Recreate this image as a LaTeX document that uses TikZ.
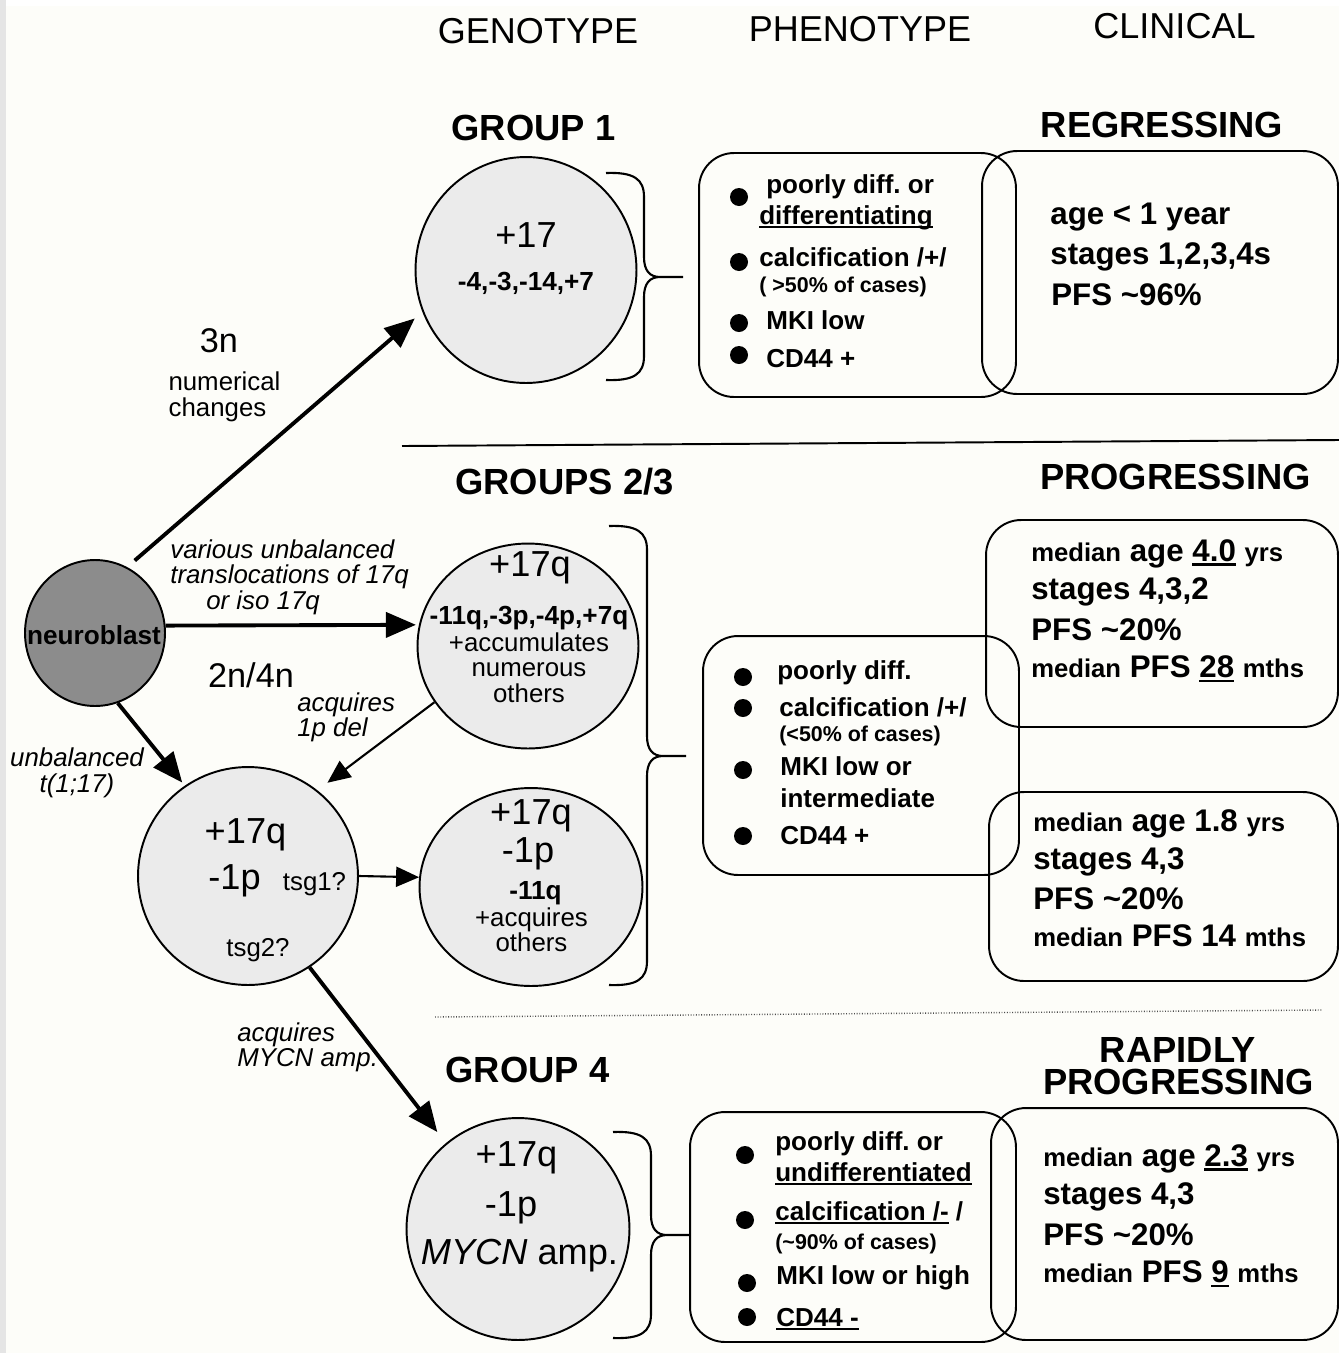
\documentclass[tikz,border=0pt]{standalone}
\usepackage{fontspec}
\setmainfont{Liberation Sans}
\usetikzlibrary{shapes.geometric,arrows.meta}
\frenchspacing

\definecolor{paper}{RGB}{253,253,249}

% underline that sits just under the baseline
\newcommand{\uln}[1]{\setbox0\hbox{#1}\rlap{\rule[-0.13em]{\wd0}{0.075em}}\box0\relax}
% smaller words inside the clinical lines
\newcommand{\smtxt}[1]{{\fontsize{14.6}{18}\selectfont #1}}

\tikzset{
  cell/.style={ellipse, draw, line width=1.1pt, fill=black!8},
  panel/.style={rectangle, draw, line width=1.1pt, rounded corners=0.7cm},
  bigarrow/.style={line width=2.2pt, -{Triangle[length=0.6cm,width=0.5cm]}},
  smallarrow/.style={line width=1.2pt, -{Triangle[length=0.46cm,width=0.4cm]}},
  colhead/.style={font=\fontsize{20.5}{24}\selectfont},
  grouplabel/.style={font=\fontsize{20.7}{24}\selectfont\bfseries},
  karyo/.style={font=\fontsize{20.6}{24}\selectfont},
  ploidy/.style={font=\fontsize{19.5}{22}\selectfont},
  note/.style={font=\fontsize{14.7}{14.5}\selectfont},
  bnote/.style={font=\fontsize{14.9}{18}\selectfont\bfseries},
  route/.style={font=\fontsize{14.7}{14.5}\selectfont\itshape},
  pheno/.style={font=\fontsize{14.8}{18}\selectfont\bfseries, anchor=west},
  cases/.style={font=\fontsize{12.2}{15}\selectfont\bfseries, anchor=west},
  clin/.style={font=\fontsize{17.8}{22}\selectfont\bfseries, anchor=west},
}

\begin{document}
\begin{tikzpicture}[x=0.02cm, y=-0.02cm, every node/.style={inner sep=0pt}]
  % Page
  \fill[paper] (0,0) rectangle (1339,1353);
  \fill[black!10] (0,0) rectangle (6,1353);
  \fill[white] (6,0) rectangle (1339,6);
  \useasboundingbox (0,0) rectangle (1339,1353);

  % Column heads
  \node[colhead] (hg) at (538,31) {GENOTYPE};
  \node[colhead] (hp) at (860,29) {PHENOTYPE};
  \node[colhead] (hc) at (1174.5,26) {CLINICAL};

  % Group titles
  \node[grouplabel] (t1) at (533.5,128) {GROUP 1};
  \node[grouplabel] (r1) at (1162,125) {REGRESSING};
  \node[grouplabel] (t23) at (564.5,481.5) {GROUPS 2/3};
  \node[grouplabel] (r23) at (1175.5,476.5) {PROGRESSING};
  \node[grouplabel] (t4) at (527.5,1069.5) {GROUP 4};
  \node[grouplabel] (r4a) at (1178,1049.5) {RAPIDLY};
  \node[grouplabel] (r4b) at (1178.5,1081.5) {PROGRESSING};

  % Separators
  \draw[line width=1.1pt] (402,446) -- (1339,440);
  \draw[line width=0.8pt, black!70, dash pattern=on 0.5pt off 1pt] (435,1017) -- (1322,1010);

  % Cells
  \node[cell, fill=black!45, minimum width=2.8cm, minimum height=2.92cm] (nb) at (95,633) {};
  \node[cell, minimum width=4.42cm, minimum height=4.52cm] (g1) at (526,270) {};
  \node[cell, minimum width=4.42cm, minimum height=4.1cm] (g23) at (528,646) {};
  \node[cell, minimum width=4.4cm, minimum height=4.36cm] (del1p) at (248,876) {};
  \node[cell, minimum width=4.46cm, minimum height=3.96cm] (g23b) at (531,887) {};
  \node[cell, minimum width=4.46cm, minimum height=4.44cm] (g4) at (518,1229) {};

  \node[bnote] (nbt) at (94,635.5) {neuroblast};

  \node[karyo] (g1k) at (526,235) {+17};
  \node[bnote] (g1l) at (526,283) {-4,-3,-14,+7};

  \node[karyo] (g23k) at (530,568) {+17q};
  \node[bnote] (g23l) at (529,618) {-11q,-3p,-4p,+7q};
  \node[note, align=center] (g23m) at (529,667.5) {+accumulates\\numerous\\others};

  \node[karyo] (d1k) at (245.5,835) {+17q};
  \node[karyo] (d1l) at (234.5,881) {-1p};
  \node[note] (tsg1) at (314.5,884) {tsg1?};
  \node[note] (tsg2) at (258,950) {tsg2?};

  \node[karyo] (g23bk) at (531,816) {+17q};
  \node[karyo] (g23bl) at (528,854) {-1p};
  \node[bnote] (g23bm) at (535.5,893) {-11q};
  \node[note, align=center] (g23bn) at (531.5,930) {+acquires\\others};

  \node[karyo] (g4k) at (516.5,1157.5) {+17q};
  \node[karyo] (g4l) at (511,1208) {-1p};
  \node[karyo] (g4m) at (519.5,1256) {\textit{MYCN} amp.};

  % Routes between the cells
  \draw[bigarrow, shorten <=0.2cm, shorten >=0.2cm] (nb.64) -- (g1.202);
  \draw[bigarrow, shorten >=0.06cm] (nb.6) -- (g23.169);
  \draw[bigarrow, shorten >=0.08cm] (nb.-72) -- (del1p.125);
  \draw[smallarrow, shorten >=0.25cm] (g23.211) -- (del1p.51);
  \draw[smallarrow] (del1p.0) -- (g23b.175);
  \draw[bigarrow, shorten >=0.28cm] (del1p.-56) -- (g4.130);

  \node[ploidy] (n3) at (219,341) {3n};
  \node[note] (n3a) at (224.5,381) {numerical};
  \node[note] (n3b) at (217.5,409.5) {changes};
  \node[ploidy] (n24) at (251,675.5) {2n/4n};
  \node[route, align=left, anchor=west] (trans) at (170,577) {various unbalanced\\translocations of 17q\\\hspace*{0.72cm}or iso 17q};
  \node[route, align=left, anchor=west] (acq1p) at (297,717.5) {acquires\\1p del};
  \node[route, align=center] (t117) at (77,773) {unbalanced\\t(1;17)};
  \node[route, align=left, anchor=west] (acqmycn) at (237,1047.5) {acquires\\MYCN amp.};

  % Braces towards the phenotype boxes
  \foreach \xs/\yt/\ym/\yb in {606/173/277/380, 609/526/756/985, 613/1132/1235/1338}
    \draw[line width=1.2pt] (\xs,\yt) .. controls (\xs+28,\yt-1) and (\xs+38,\yt+6) .. (\xs+38,\yt+24)
      -- (\xs+38,\ym-20) .. controls (\xs+38,\ym-6) and (\xs+44,\ym) .. (\xs+54,\ym) -- (\xs+77,\ym)
      (\xs+54,\ym) .. controls (\xs+44,\ym) and (\xs+38,\ym+6) .. (\xs+38,\ym+20)
      -- (\xs+38,\yb-24) .. controls (\xs+38,\yb-6) and (\xs+28,\yb+1) .. (\xs,\yb);

  % Phenotype and clinical boxes
  \node[panel, minimum width=6.34cm, minimum height=4.88cm] (ph1) at (857.5,275) {};
  \node[panel, minimum width=7.12cm, minimum height=4.86cm] (cl1) at (1160,272.5) {};
  \node[panel, minimum width=6.32cm, minimum height=4.78cm] (ph23) at (861,755.5) {};
  \node[panel, minimum width=7.04cm, minimum height=4.14cm] (cl2) at (1162,623.5) {};
  \node[panel, minimum width=6.98cm, minimum height=3.78cm] (cl3) at (1163.5,886.5) {};
  \node[panel, minimum width=6.52cm, minimum height=4.6cm] (ph4) at (853,1227) {};
  \node[panel, minimum width=6.94cm, minimum height=4.64cm] (cl4) at (1164.5,1224) {};

  % Bullets
  \foreach \x/\y in {739/197, 739/262, 739/323, 739/355, 743/677, 743/708, 743/770, 743/836,
                     745/1155, 745/1220, 747/1283, 747/1317}
    \fill (\x,\y) circle[radius=0.18cm];

  \node[pheno] (p1a) at (766,187) {poorly diff. or};
  \node[pheno] (p1b) at (759,218) {\uln{differentiating}};
  \node[pheno] (p1c) at (759,257) {calcification /+/};
  \node[cases] (p1d) at (759,287) {( >50\% of cases)};
  \node[pheno] (p1e) at (766,320) {MKI low};
  \node[pheno] (p1f) at (766,359) {CD44 +};

  \node[pheno] (p2a) at (777,672.5) {poorly diff.};
  \node[pheno] (p2b) at (779,707) {calcification /+/};
  \node[cases] (p2c) at (779,736) {(<50\% of cases)};
  \node[pheno] (p2d) at (780,766) {MKI low or};
  \node[pheno] (p2e) at (780,798) {intermediate};
  \node[pheno] (p2f) at (780,836) {CD44 +};

  \node[pheno] (p4a) at (775,1143.5) {poorly diff. or};
  \node[pheno] (p4b) at (775,1174) {\uln{undifferentiated}};
  \node[pheno] (p4c) at (775,1213) {\uln{calcification /-} /};
  \node[cases] (p4d) at (775,1244) {(\textasciitilde 90\% of cases)};
  \node[pheno] (p4e) at (776,1278) {MKI low or high};
  \node[pheno] (p4f) at (776,1319) {\uln{CD44 -}};

  \node[clin] (c1a) at (1050,217.5) {age < 1 year};
  \node[clin] (c1b) at (1050,257) {stages 1,2,3,4s};
  \node[clin] (c1c) at (1051,295) {PFS \textasciitilde 96\%};

  \node[clin] (c2a) at (1031,554) {\smtxt{median} age \uln{4.0} \smtxt{yrs}};
  \node[clin] (c2b) at (1031,591.5) {stages 4,3,2};
  \node[clin] (c2c) at (1031,630) {PFS \textasciitilde 20\%};
  \node[clin] (c2d) at (1031,669) {\smtxt{median} PFS \uln{28} \smtxt{mths}};

  \node[clin] (c3a) at (1033,824) {\smtxt{median} age 1.8 \smtxt{yrs}};
  \node[clin] (c3b) at (1033,862) {stages 4,3};
  \node[clin] (c3c) at (1033,899) {PFS \textasciitilde 20\%};
  \node[clin] (c3d) at (1033,936) {\smtxt{median} PFS 14 \smtxt{mths}};

  \node[clin] (c4a) at (1043,1159) {\smtxt{median} age \uln{2.3} \smtxt{yrs}};
  \node[clin] (c4b) at (1043,1197) {stages 4,3};
  \node[clin] (c4c) at (1043,1235) {PFS \textasciitilde 20\%};
  \node[clin] (c4d) at (1043,1274) {\smtxt{median} PFS \uln{9} \smtxt{mths}};
\end{tikzpicture}
\end{document}
